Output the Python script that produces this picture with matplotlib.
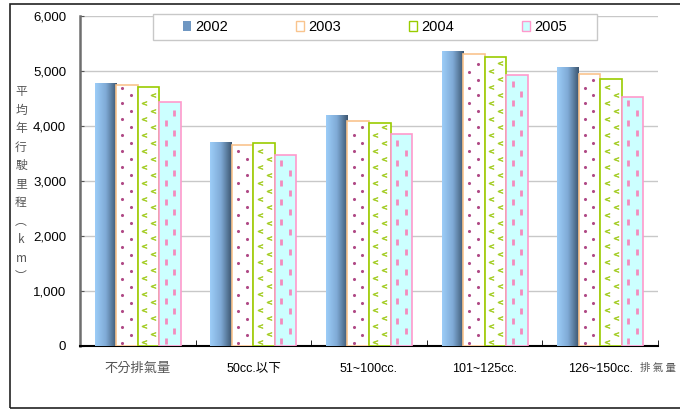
import numpy as np
import matplotlib
matplotlib.use("Agg")
import matplotlib.pyplot as plt
from matplotlib.patches import Rectangle, Patch
from matplotlib.colors import LinearSegmentedColormap

plt.rcParams['font.family'] = ['Liberation Sans', 'Noto Sans CJK TC', 'DejaVu Sans']

categories = ["不分排氣量", "50cc.以下", "51~100cc.", "101~125cc.", "126~150cc."]
years = ["2002", "2003", "2004", "2005"]
km_2002 = [4790, 3710, 4200, 5365, 5075]
km_2003 = [4750, 3660, 4090, 5305, 4940]
km_2004 = [4710, 3690, 4055, 5250, 4850]
km_2005 = [4440, 3475, 3855, 4925, 4535]
series = [km_2002, km_2003, km_2004, km_2005]

BAR_W = 0.186
fig = plt.figure(figsize=(6.8, 4.12), dpi=100)
ax = fig.add_axes([80 / 680, 66 / 412, 578 / 680, 330 / 412])

# outer frame of the chart object
fig.add_artist(Rectangle((10 / 680, 4 / 412), 0.99, 404 / 412, transform=fig.transFigure,
                         fill=False, edgecolor="#222222", linewidth=1.2, clip_on=False))

blue_cmap = LinearSegmentedColormap.from_list("b", ["#9CCDF8", "#7FAAD6", "#3C5670"])
grad = np.linspace(0, 1, 64).reshape(1, -1)

x = np.arange(len(categories))
offsets = (np.arange(4) - 1.5) * BAR_W


def pattern_points(x0, h, fx, phase, dy):
    # two staggered columns of pattern marks inside one bar
    pts_x, pts_y = [], []
    for i, f in enumerate(fx):
        ys = np.arange(phase + i * dy, h, 2 * dy)
        pts_x += [x0 + f * BAR_W] * len(ys)
        pts_y += list(ys)
    return pts_x, pts_y


for si, vals in enumerate(series):
    for gi, v in enumerate(vals):
        x0 = x[gi] + offsets[si] - BAR_W / 2
        if si == 0:
            r = Rectangle((x0, 0), BAR_W, v, facecolor="none", edgecolor="none", zorder=3)
            ax.add_patch(r)
            im = ax.imshow(grad, cmap=blue_cmap, aspect="auto", extent=(x0, x0 + BAR_W, 0, v),
                           zorder=3, interpolation="bilinear")
            im.set_clip_path(r)
        elif si == 1:
            r = Rectangle((x0, 0), BAR_W, v, facecolor="white", edgecolor="#F9C48E", linewidth=1.2, zorder=3)
            ax.add_patch(r)
            px, py = pattern_points(x0, v - 40, [0.28, 0.68], 60, 145)
            ax.scatter(px, py, s=5, color="#B04A86", zorder=4, linewidths=0).set_clip_path(r)
        elif si == 2:
            r = Rectangle((x0, 0), BAR_W, v, facecolor="white", edgecolor="#99CC00", linewidth=1.2, zorder=3)
            ax.add_patch(r)
            px, py = pattern_points(x0, v - 40, [0.3, 0.72], 70, 145)
            ax.scatter(px, py, s=12, marker="$<$", color="#A6CE2A", zorder=4, linewidths=0.5).set_clip_path(r)
        else:
            r = Rectangle((x0, 0), BAR_W, v, facecolor="#CCFFFF", edgecolor="#FF99CC", linewidth=1.2, zorder=3)
            ax.add_patch(r)
            px, py = pattern_points(x0, v - 40, [0.3, 0.7], 90, 180)
            ax.scatter(px, py, s=22, marker="|", color="#F38BBD", zorder=4, linewidths=2).set_clip_path(r)

ax.set_xlim(-0.5, 4.5)
ax.set_ylim(0, 6000)
ax.set_yticks(np.arange(0, 6001, 1000))
ax.set_yticklabels([f"{t:,}" for t in range(0, 6001, 1000)], fontsize=9.5)
ax.yaxis.grid(True, color="#C8C8C8", linewidth=1)
ax.set_axisbelow(True)
ax.tick_params(axis="y", direction="in", length=3, pad=10, color="#555555")

ax.set_xticks(x)
ax.set_xticklabels(categories, fontsize=9)
ax.get_xticklabels()[0].set_color("#555555")
ax.get_xticklabels()[0].set_fontsize(9.5)
ax.tick_params(axis="x", length=0, pad=12)
ax.set_xticks(np.arange(-0.5, 5, 1), minor=True)
ax.tick_params(axis="x", which="minor", direction="in", length=4, color="black")

for s in ["top", "right"]:
    ax.spines[s].set_visible(False)
ax.spines["left"].set_color("#6E6E6E")
ax.spines["left"].set_linewidth(1.8)
ax.spines["bottom"].set_color("black")
ax.spines["bottom"].set_linewidth(1.5)

fig.text(21 / 680, (412 - 184) / 412, "平\n均\n年\n行\n駛\n里\n程\n︵\nk\nm\n︶", fontsize=8.5,
         color="#555555", ha="center", va="center", linespacing=1.55,
         family=["Noto Sans CJK TC", "DejaVu Sans"])
fig.text(676 / 680, 44 / 412, "排 氣 量", fontsize=7.5, color="#555555", ha="right", va="center",
         family=["Noto Sans CJK TC", "DejaVu Sans"])

# legend box drawn separately so the entries can sit centred inside it
fig.add_artist(Rectangle((153 / 680, 372 / 412), 444 / 680, 26 / 412, transform=fig.transFigure,
                         facecolor="white", edgecolor="#C8C8C8", linewidth=1, zorder=5))
handles = [
    Patch(facecolor="#6F97C2", edgecolor="none"),
    Patch(facecolor="white", edgecolor="#F9C48E"),
    Patch(facecolor="white", edgecolor="#99CC00"),
    Patch(facecolor="#CCFFFF", edgecolor="#FF99CC"),
]
leg = fig.legend(handles, years, loc="center", ncol=4, fontsize=10.5,
                 bbox_to_anchor=(375 / 680, 385 / 412), frameon=False,
                 handlelength=0.55, handleheight=0.7, handletextpad=0.35,
                 columnspacing=4.6, borderpad=0.2)
leg.set_zorder(6)

fig.savefig("out.png", dpi=100)
